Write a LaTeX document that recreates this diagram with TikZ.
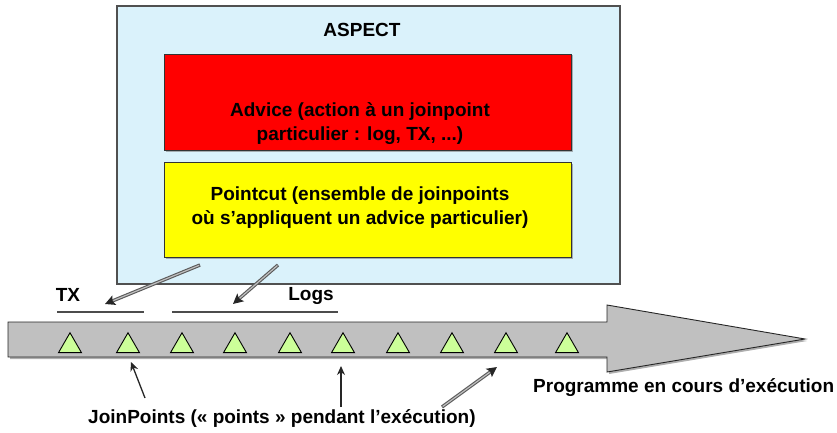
\documentclass[tikz,border=0pt]{standalone}
\usepackage{fontspec}
\setmainfont{Liberation Sans}
\usetikzlibrary{shapes.geometric,arrows.meta,shadows}
\definecolor{aspectbg}{HTML}{DAF2FB}
\definecolor{boxborder}{HTML}{505050}
\definecolor{advred}{HTML}{FF0000}
\definecolor{pcyellow}{HTML}{FFFF00}
\definecolor{progray}{HTML}{C0C0C0}
\definecolor{jpgreen}{HTML}{CCFF99}
\tikzset{
  lbl/.style={font=\bfseries\fontsize{19}{23.5}\selectfont, align=center, inner sep=0},
  inbox/.style={draw=black!80, line width=0.8pt, minimum width=407pt, inner sep=0,
                drop shadow={shadow xshift=1.5pt, shadow yshift=-1.5pt, fill=black!50, opacity=0.6}},
  jp/.style={regular polygon, regular polygon sides=3, minimum size=26.5pt, inner sep=0,
             draw=black, line width=0.9pt, fill=jpgreen},
  grayarrow/.style={draw=black!65, line width=3.4pt,
                    -{Stealth[length=10pt,width=10pt,inset=2pt,color=black!85,fill=black!85]}},
  grayinner/.style={draw=black!25, line width=1.2pt, shorten >=9pt, shorten <=0.8pt},
  blackarrow/.style={draw=black!85, line width=1.3pt, -{Stealth[length=9pt,width=8pt]}},
  bracketline/.style={draw=black!70, line width=1.4pt}
}
\begin{document}
\begin{tikzpicture}[x=1pt,y=-1pt]
\useasboundingbox (0,0) rectangle (837,433);
% aspect box
\node[draw=boxborder, line width=1.2pt, fill=aspectbg, minimum width=503pt, minimum height=278pt, inner sep=0] (aspect) at (368.5,145) {};
\node[lbl] (aspectlbl) at (362,30) {ASPECT};
\node[inbox, fill=advred, minimum height=96pt] (advice) at (367.5,102) {};
\node[lbl] (advicelbl) at (360,123.5) {Advice (action à un joinpoint\\particulier : log, TX, ...)};
\node[inbox, fill=pcyellow, minimum height=95pt] (pointcut) at (367.5,209.5) {};
\node[lbl] (pointcutlbl) at (360,207.5) {Pointcut (ensemble de joinpoints\\où s’appliquent un advice particulier)};
% program arrow
\fill[black!45, opacity=0.7] (10,324) -- (609,324) -- (609,307) -- (807,341) -- (609,374) -- (609,359) -- (10,359) -- cycle;
\draw[fill=progray, draw=black!85, line width=0.9pt] (8,322) -- (607,322) -- (607,305) -- (805,339) -- (607,372) -- (607,357) -- (8,357) -- cycle;
% joinpoints
\foreach \x [count=\i] in {70,128,182,235,290,343,398,452,506,567}
  \node[jp] (t\i) at (\x,346) {};
% brackets
\coordinate (txa) at (57,312); \coordinate (txb) at (144,312);
\coordinate (lga) at (172,312); \coordinate (lgb) at (338,312);
\draw[bracketline] (txa) -- (txb);
\draw[bracketline] (lga) -- (lgb);
\node[lbl] (tx) at (68,295) {TX};
\node[lbl] (logs) at (311,296) {Logs};
% arrows
\coordinate (s1) at (200,265); \coordinate (e1) at (105,304);
\coordinate (s2) at (278,265); \coordinate (e2) at (233,304);
\coordinate (s5) at (442,407); \coordinate (e5) at (497,367);
\foreach \s/\e in {s1/e1,s2/e2,s5/e5}{
  \draw[grayarrow] (\s) -- (\e);
  \draw[grayinner] (\s) -- (\e);
}
\node[lbl, anchor=west] (jplbl) at (88,418) {JoinPoints (« points » pendant l’exécution)};
\node[lbl, anchor=west] (proglbl) at (533,388) {Programme en cours d’exécution};
\coordinate (s3) at (145,398); \coordinate (e3) at (131,362);
\coordinate (s4) at (341,407); \coordinate (e4) at (341,366);
\draw[blackarrow] (s3) -- (e3);
\draw[blackarrow] (s4) -- (e4);
\end{tikzpicture}
\end{document}
